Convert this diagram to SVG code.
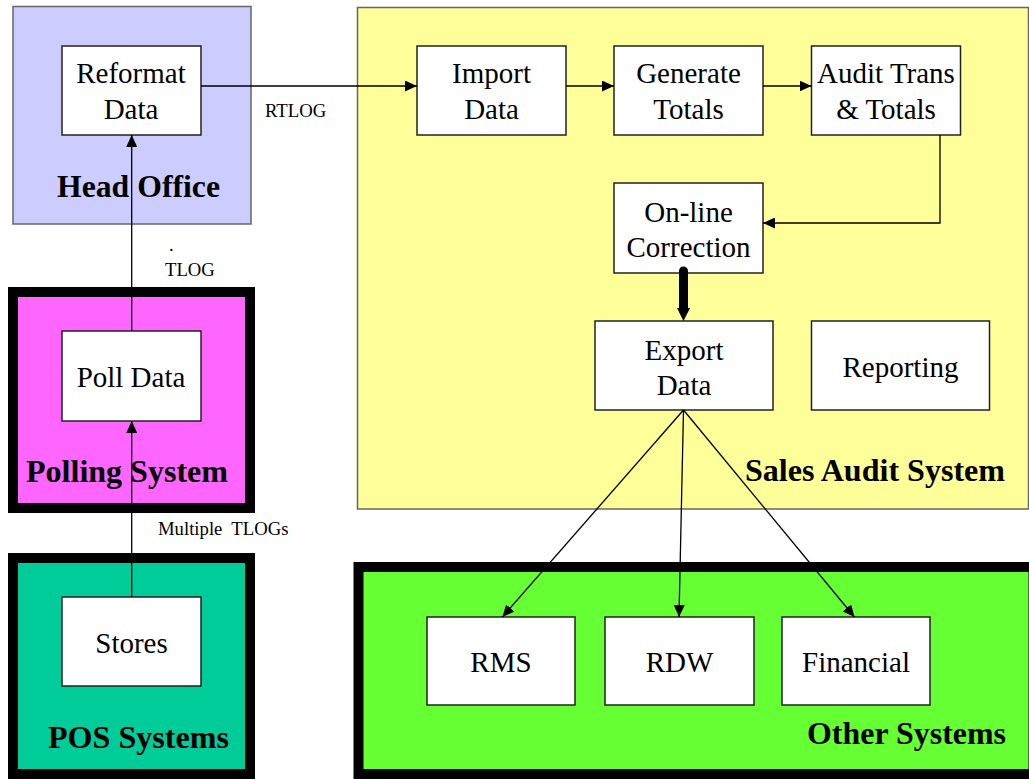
<svg xmlns="http://www.w3.org/2000/svg" width="1029" height="779" viewBox="0 0 1029 779">
  <style>
    text { font-family: "Liberation Serif", "Times New Roman", serif; fill: #000; }
    .node { fill: #fff; stroke: #222; stroke-width: 1.5; }
    .nt { font-size: 29px; text-anchor: middle; }
    .title { font-size: 31px; font-weight: bold; }
    .lbl { font-size: 18.7px; }
    .thin { fill: none; stroke: #666; stroke-width: 1.5; }
    .thick { stroke: #000; stroke-width: 10; }
    .conn { fill: none; stroke: #000; stroke-width: 1.3; }
  </style>
  <defs>
    <marker id="arrow" markerUnits="userSpaceOnUse" markerWidth="12" markerHeight="11" refX="12" refY="5.5" orient="auto">
      <path d="M0,0 L12,5.5 L0,11 z" fill="#000"/>
    </marker>
  </defs>

  <rect width="1029" height="779" fill="#fff"/>

  <!-- system containers -->
  <g id="head-office">
    <rect x="13" y="6.5" width="238" height="217.5" class="thin" style="fill:#CCCCFF"/>
    <text class="title" x="57" y="197" textLength="163" lengthAdjust="spacingAndGlyphs">Head Office</text>
  </g>
  <g id="polling-system">
    <rect x="13" y="292" width="237" height="216" fill="#FF66FF" class="thick"/>
    <text class="title" x="26" y="482" textLength="202" lengthAdjust="spacingAndGlyphs">Polling System</text>
  </g>
  <g id="pos-systems">
    <rect x="13" y="558" width="237" height="216" fill="#00CC99" class="thick"/>
    <text class="title" x="48" y="748" textLength="181" lengthAdjust="spacingAndGlyphs">POS Systems</text>
  </g>
  <g id="sales-audit-system">
    <rect x="357.5" y="7.5" width="671" height="501.5" class="thin" style="fill:#FFFF99"/>
    <text class="title" x="745" y="481" textLength="260" lengthAdjust="spacingAndGlyphs">Sales Audit System</text>
  </g>
  <g id="other-systems">
    <rect x="358.5" y="567" width="675" height="207" fill="#66FF33" class="thick"/>
    <text class="title" x="807" y="744" textLength="199" lengthAdjust="spacingAndGlyphs">Other Systems</text>
  </g>

  <!-- process nodes -->
  <g id="reformat-data">
    <rect class="node" x="62" y="46" width="139" height="89"/>
    <text class="nt" x="131" y="83">Reformat</text>
    <text class="nt" x="131" y="119">Data</text>
  </g>
  <g id="poll-data">
    <rect class="node" x="62" y="331" width="139" height="90"/>
    <text class="nt" x="131" y="387">Poll Data</text>
  </g>
  <g id="stores">
    <rect class="node" x="62" y="597" width="139" height="89"/>
    <text class="nt" x="131.5" y="653">Stores</text>
  </g>
  <g id="import-data">
    <rect class="node" x="417" y="46" width="149" height="89"/>
    <text class="nt" x="491.5" y="83">Import</text>
    <text class="nt" x="491.5" y="119">Data</text>
  </g>
  <g id="generate-totals">
    <rect class="node" x="614" y="46" width="149" height="89"/>
    <text class="nt" x="688.5" y="83">Generate</text>
    <text class="nt" x="688.5" y="119">Totals</text>
  </g>
  <g id="audit-trans-totals">
    <rect class="node" x="811.5" y="46" width="149" height="89"/>
    <text class="nt" x="886" y="83">Audit Trans</text>
    <text class="nt" x="886" y="119">&amp; Totals</text>
  </g>
  <g id="online-correction">
    <rect class="node" x="614" y="183" width="149" height="90"/>
    <text class="nt" x="688.5" y="222">On-line</text>
    <text class="nt" x="688.5" y="257">Correction</text>
  </g>
  <g id="export-data">
    <rect class="node" x="595" y="321" width="178" height="89"/>
    <text class="nt" x="684" y="360">Export</text>
    <text class="nt" x="684" y="395">Data</text>
  </g>
  <g id="reporting">
    <rect class="node" x="811.5" y="321" width="178" height="89"/>
    <text class="nt" x="900.5" y="377">Reporting</text>
  </g>
  <g id="rms">
    <rect class="node" x="427" y="617" width="148" height="88"/>
    <text class="nt" x="501" y="672">RMS</text>
  </g>
  <g id="rdw">
    <rect class="node" x="605" y="617" width="149" height="88"/>
    <text class="nt" x="679.5" y="672">RDW</text>
  </g>
  <g id="financial">
    <rect class="node" x="782" y="617" width="148" height="88"/>
    <text class="nt" x="856" y="672">Financial</text>
  </g>

  <!-- connectors -->
  <g id="connectors">
    <line class="conn" x1="131.7" y1="597" x2="131.7" y2="421" marker-end="url(#arrow)"/>
    <line class="conn" x1="131.7" y1="331" x2="131.7" y2="135" marker-end="url(#arrow)"/>
    <line class="conn" x1="201" y1="86" x2="417" y2="86" marker-end="url(#arrow)"/>
    <line class="conn" x1="566" y1="86" x2="614" y2="86" marker-end="url(#arrow)"/>
    <line class="conn" x1="763" y1="86" x2="811.5" y2="86" marker-end="url(#arrow)"/>
    <polyline class="conn" points="940,135 940,223 763,223" marker-end="url(#arrow)"/>
    <line x1="683.5" y1="271" x2="683.5" y2="310" stroke="#000" stroke-width="9" stroke-linecap="round"/>
    <path d="M677,308 L690,308 L683.5,321 z" fill="#000"/>
    <line class="conn" x1="683.5" y1="410" x2="502.4" y2="617" marker-end="url(#arrow)"/>
    <line class="conn" x1="683.5" y1="410" x2="679" y2="617" marker-end="url(#arrow)"/>
    <line class="conn" x1="683.5" y1="410" x2="854.5" y2="617" marker-end="url(#arrow)"/>
    <text class="lbl" x="265" y="117">RTLOG</text>
    <text class="lbl" x="169" y="251">.</text>
    <text class="lbl" x="165" y="276">TLOG</text>
    <text class="lbl" x="158" y="535" xml:space="preserve">Multiple  TLOGs</text>
  </g>
</svg>
